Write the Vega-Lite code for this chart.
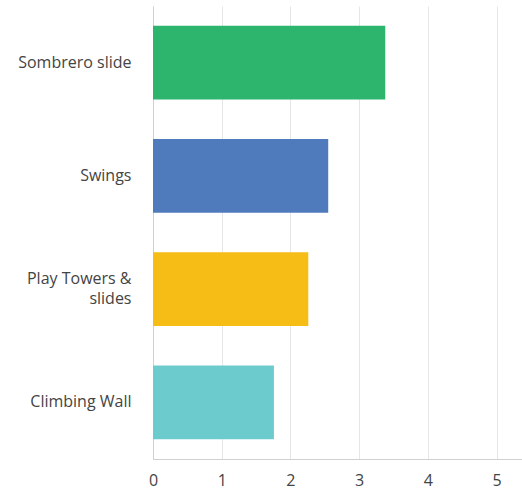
{
  "$schema": "https://vega.github.io/schema/vega-lite/v6.json",
  "autosize": "none",
  "width": 369,
  "height": 453,
  "padding": {"left": 153, "top": 6, "right": 0, "bottom": 31},
  "background": "white",
  "data": {"values": [
    {"option": "Sombrero slide", "value": 3.38},
    {"option": "Swings", "value": 2.55},
    {"option": "Play Towers & slides", "value": 2.26},
    {"option": "Climbing Wall", "value": 1.76}
  ]},
  "config": {"view": {"stroke": null}, "font": "Open Sans"},
  "mark": {"type": "bar"},
  "encoding": {
    "y": {
      "field": "option", "type": "nominal", "sort": null,
      "scale": {"paddingInner": 0.35, "paddingOuter": 0.175},
      "axis": {
        "title": null, "ticks": false, "grid": false,
        "domainColor": "#d0d0d0", "labelFontSize": 16, "labelColor": "#444",
        "labelPadding": 22, "labelLineHeight": 20,
        "labelOffset": {"condition": {"test": "datum.label == 'Play Towers & slides'", "value": -10}, "value": 0},
        "labelExpr": "datum.label == 'Play Towers & slides' ? ['Play Towers &', 'slides'] : datum.label"
      }
    },
    "x": {
      "field": "value", "type": "quantitative",
      "scale": {"domain": [0, 5.37], "nice": false},
      "axis": {
        "title": null, "values": [0, 1, 2, 3, 4, 5], "ticks": false, "labelFlush": false,
        "gridColor": "#e6e6e6", "domainColor": "#d0d0d0",
        "labelFontSize": 16, "labelColor": "#444", "labelPadding": 13
      }
    },
    "color": {
      "field": "option", "type": "nominal", "legend": null,
      "scale": {
        "domain": ["Sombrero slide", "Swings", "Play Towers & slides", "Climbing Wall"],
        "range": ["#2db56e", "#4f7bbd", "#f5bd16", "#6ccbcd"]
      }
    }
  }
}
